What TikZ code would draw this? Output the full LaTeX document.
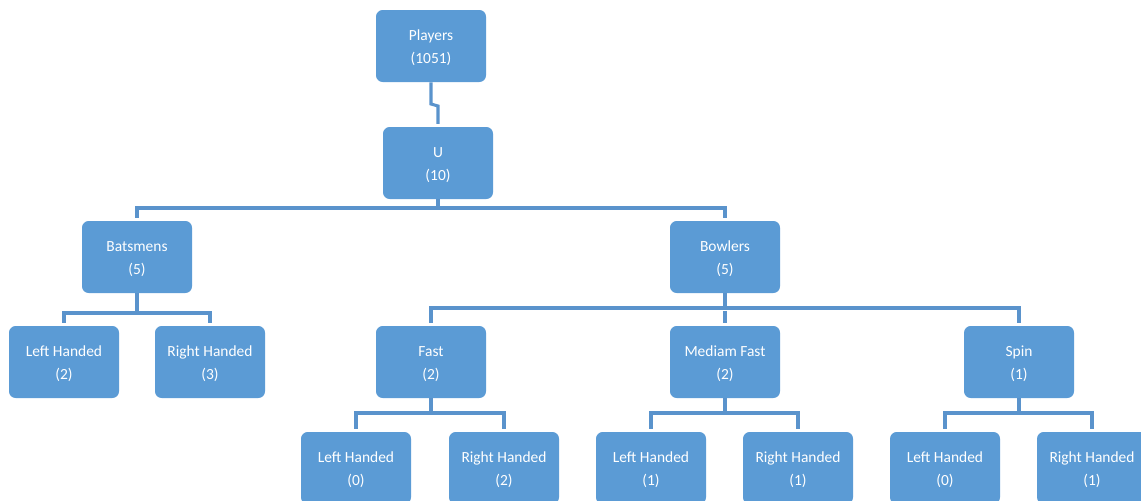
\documentclass[tikz,border=0pt]{standalone}
\usepackage{fontspec}
\setmainfont{Carlito}
\definecolor{boxblue}{HTML}{5B9BD5}
\definecolor{lineblue}{HTML}{5A93CC}
\newcommand{\twoline}[2]{\rule{0pt}{11pt}#1\\#2}
\begin{document}
\begin{tikzpicture}[x=0.75pt,y=-0.75pt,
  box/.style={fill=boxblue, rounded corners=5pt, minimum width=82.5pt, minimum height=54pt,
    inner sep=0pt, text=white, align=center,
    font=\fontsize{11.6pt}{17.3pt}\selectfont},
  conn/.style={draw=lineblue, line width=2.3pt},
  child/.style={conn, shorten <=2.2pt, shorten >=2.2pt}]
\useasboundingbox (0,0) rectangle (1141,500);
\clip (0,0) rectangle (1141,500);
% level 0/1
\node[box] (P) at (431,46) {\twoline{Players}{(1051)}};
\node[box] (U) at (438,163) {\twoline{U}{(10)}};
% level 2
\node[box] (Bat) at (137,257) {\twoline{Batsmens}{(5)}};
\node[box] (Bow) at (725,257) {\twoline{Bowlers}{(5)}};
% level 3
\node[box] (BL) at (64,362) {\twoline{Left Handed}{(2)}};
\node[box] (BR) at (210,362) {\twoline{Right Handed}{(3)}};
\node[box] (F) at (431,362) {\twoline{Fast}{(2)}};
\node[box] (M) at (725,362) {\twoline{Mediam Fast}{(2)}};
\node[box] (S) at (1019,362) {\twoline{Spin}{(1)}};
% level 4
\node[box] (FL) at (356,468) {\twoline{Left Handed}{(0)}};
\node[box] (FR) at (504,468) {\twoline{Right Handed}{(2)}};
\node[box] (ML) at (651,468) {\twoline{Left Handed}{(1)}};
\node[box] (MR) at (798,468) {\twoline{Right Handed}{(1)}};
\node[box] (SL) at (945,468) {\twoline{Left Handed}{(0)}};
\node[box] (SR) at (1092,468) {\twoline{Right Handed}{(1)}};
% bus levels
\coordinate (j1) at (431,104);
\coordinate (j2) at (438,106);
\coordinate (b1) at (0,208);
\coordinate (b2) at (0,313);
\coordinate (b3) at (0,308);
\coordinate (b4) at (0,413);
% connectors
\draw[conn, shorten >=2.2pt] (P.south) -- (j1) -- (j2) -- (U.north);
\draw[conn] (U.south) -- (U.south |- b1);
\draw[child] (Bat.north) |- (Bow.north |- b1) -- (Bow.north);
\draw[conn] (Bat.south) -- (Bat.south |- b2);
\draw[child] (BL.north) |- (BR.north |- b2) -- (BR.north);
\draw[conn] (Bow.south) -- (Bow.south |- b3);
\draw[child] (F.north) |- (S.north |- b3) -- (S.north);
\draw[child] (M.north |- b3) -- (M.north);
\draw[conn] (F.south) -- (F.south |- b4);
\draw[child] (FL.north) |- (FR.north |- b4) -- (FR.north);
\draw[conn] (M.south) -- (M.south |- b4);
\draw[child] (ML.north) |- (MR.north |- b4) -- (MR.north);
\draw[conn] (S.south) -- (S.south |- b4);
\draw[child] (SL.north) |- (SR.north |- b4) -- (SR.north);
\end{tikzpicture}
\end{document}
